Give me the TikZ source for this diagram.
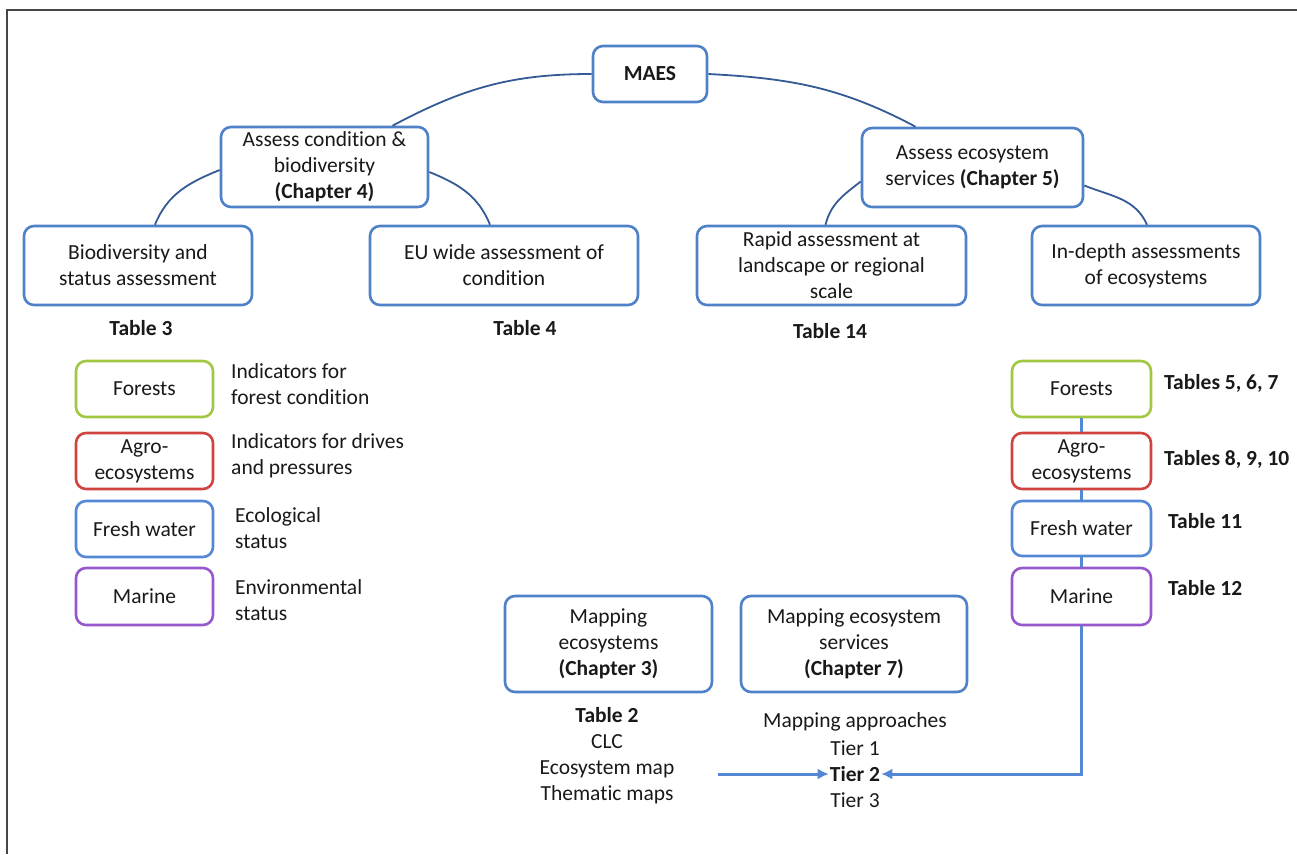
\documentclass[tikz,border=0pt]{standalone}
\usepackage{fontspec}
\setmainfont{Carlito}[Ligatures=NoCommon]
\usetikzlibrary{arrows.meta}
\definecolor{boxblue}{RGB}{79,129,200}
\definecolor{linkblue}{RGB}{52,90,150}
\definecolor{fgreen}{RGB}{160,200,64}
\definecolor{fred}{RGB}{208,68,64}
\definecolor{fwblue}{RGB}{84,136,212}
\definecolor{fpurple}{RGB}{150,88,204}
\definecolor{framegray}{RGB}{70,70,70}
\tikzset{
  txt/.style={font=\fontsize{21.5}{26}\selectfont, inner sep=0pt, align=center, text=black!90},
  boxnode/.style={txt, draw=boxblue, line width=2.6pt, rounded corners=10pt, fill=white},
  lbl/.style={txt, align=left, anchor=west},
  link/.style={draw=linkblue, line width=1.8pt},
  vline/.style={draw=fwblue, line width=3pt},
  arr/.style={vline, -{Latex[length=11pt,width=11pt]}},
}
\begin{document}
\begin{tikzpicture}[x=1pt,y=-1pt]
\useasboundingbox (0,0) rectangle (1297,854);
% frame
\draw[framegray, line width=2pt] (7,854) coordinate (f1) -- (7,10) coordinate (f2) -- (1300,10) coordinate (f3);

% top level
\node[boxnode, minimum width=114pt, minimum height=56pt] (maes) at (650,74) {\textbf{MAES}};
\node[boxnode, minimum width=207pt, minimum height=80pt] (ac) at (324.5,167) {Assess condition \&\\biodiversity\\\textbf{(Chapter 4)}};
\node[boxnode, minimum width=221pt, minimum height=79pt] (aes) at (972.5,167.5) {Assess ecosystem\\services \textbf{(Chapter 5)}};

\node[boxnode, minimum width=228pt, minimum height=79pt] (bio) at (138,265.5) {Biodiversity and\\status assessment};
\node[boxnode, minimum width=268pt, minimum height=79pt] (eu) at (504,265.5) {EU wide assessment of\\condition};
\node[boxnode, minimum width=269pt, minimum height=79pt] (rapid) at (831.5,265.5) {Rapid assessment at\\landscape or regional\\scale};
\node[boxnode, minimum width=228pt, minimum height=79pt] (indepth) at (1146,265.5) {In-depth assessments\\of ecosystems};

% curved links
\draw[link] (maes.west) to[out=180,in=28] ([xshift=68pt]ac.north);
\draw[link] (maes.east) to[out=-3,in=152] ([xshift=-57pt]aes.north);
\draw[link] ([yshift=-3pt]ac.west) to[out=202,in=68] ([xshift=17pt]bio.north);
\draw[link] ([yshift=-5pt]ac.west -| ac.east) to[out=-22,in=112] ([xshift=-14pt]eu.north);
\draw[link] ([yshift=-14pt]aes.west) to[out=218,in=76] ([xshift=-6pt]rapid.north);
\draw[link] ([yshift=-18pt]aes.east) to[out=-22,in=114] ([xshift=1pt]indepth.north);

% table labels
\node[txt] (t3) at (141,328) {\textbf{Table 3}};
\node[txt] (t4) at (525,328) {\textbf{Table 4}};
\node[txt] (t14) at (830,331) {\textbf{Table 14}};

% left column
\node[boxnode, draw=fgreen, minimum width=137pt, minimum height=56pt] (lf) at (144.5,389) {Forests};
\node[boxnode, draw=fred, minimum width=137pt, minimum height=56pt] (la) at (144.5,461) {Agro-\\ecosystems};
\node[boxnode, draw=fwblue, minimum width=137pt, minimum height=56pt] (lw) at (144.5,529) {Fresh water};
\node[boxnode, draw=fpurple, minimum width=137pt, minimum height=57pt] (lm) at (144.5,596.5) {Marine};

\node[lbl] (lft) at (231,384) {Indicators for\\forest condition};
\node[lbl] (lat) at (231,456) {Indicators for drives\\and pressures};
\node[lbl] (lwt) at (235,528) {Ecological\\status};
\node[lbl] (lmt) at (235,600) {Environmental\\status};

% right column
\node[boxnode, draw=fgreen, minimum width=139pt, minimum height=56pt] (rf) at (1081.5,389) {Forests};
\node[boxnode, draw=fred, minimum width=139pt, minimum height=56pt] (ra) at (1081.5,461) {Agro-\\ecosystems};
\node[boxnode, draw=fwblue, minimum width=139pt, minimum height=55pt] (rw) at (1081.5,528.5) {Fresh water};
\node[boxnode, draw=fpurple, minimum width=139pt, minimum height=57pt] (rm) at (1081.5,596.5) {Marine};

\node[lbl] (rft) at (1164,383) {\textbf{Tables 5, 6, 7}};
\node[lbl] (rat) at (1164,459) {\textbf{Tables 8, 9, 10}};
\node[lbl] (rwt) at (1168,521) {\textbf{Table 11}};
\node[lbl] (rmt) at (1168,588) {\textbf{Table 12}};

% mapping
\node[boxnode, minimum width=207pt, minimum height=96pt] (m1) at (608.5,644) {Mapping\\ecosystems\\\textbf{(Chapter 3)}};
\node[boxnode, minimum width=226pt, minimum height=96pt] (m2) at (854,644) {Mapping ecosystem\\services\\\textbf{(Chapter 7)}};

\node[txt] (t2) at (607,756) {\textbf{Table 2}\\CLC\\Ecosystem map\\Thematic maps};
\node[txt] (ma) at (855,722) {Mapping approaches};
\node[txt] (tier1) at (855,748) {Tier 1};
\node[txt] (tier2) at (855,774) {\textbf{Tier 2}};
\node[txt] (tier3) at (855,800) {Tier 3};

% connectors
\draw[vline] (rf.south) -- (ra.north);
\draw[vline] (ra.south) -- (rw.north);
\draw[vline] (rw.south) -- (rm.north);
\coordinate (src) at (718,774);
\draw[arr] (rm.south) |- ([xshift=1pt]tier2.east);
\draw[arr] (src) -- ([xshift=-1pt]tier2.west);
\end{tikzpicture}
\end{document}
